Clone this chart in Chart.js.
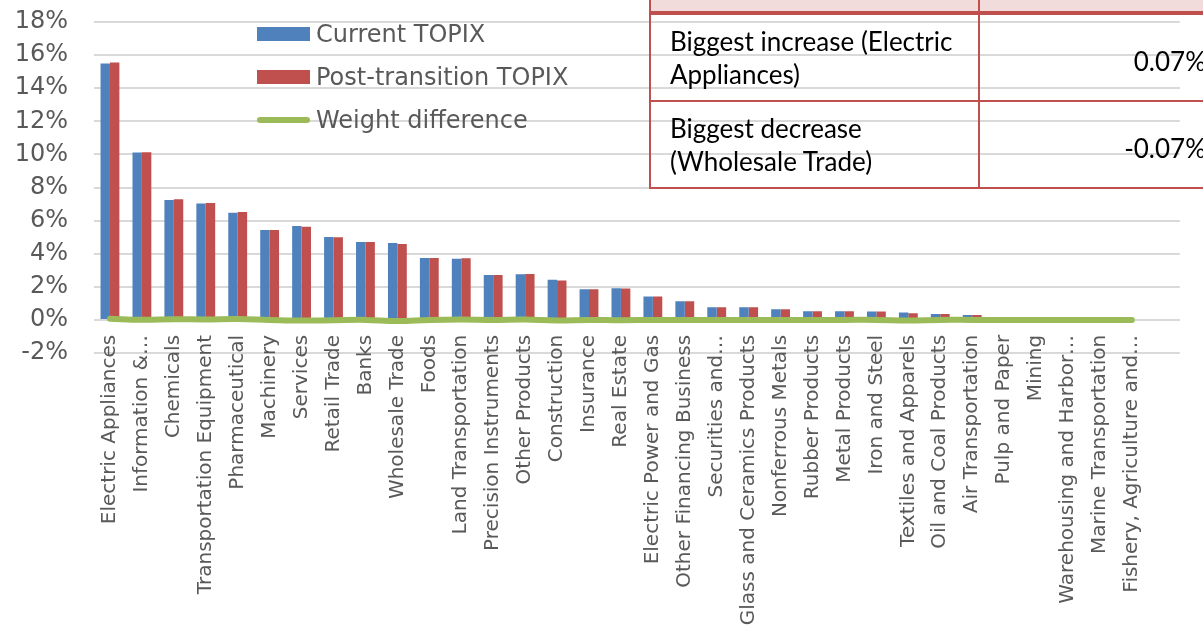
<!DOCTYPE html>
<html>
<head>
<meta charset="utf-8">
<script src="https://cdn.jsdelivr.net/npm/chart.js"></script>
<style>
  html, body { margin: 0; padding: 0; background: #fff; overflow: hidden; }
  #wrap { position: relative; width: 1203px; height: 633px; overflow: hidden; }
  #legend { position: absolute; left: 257px; top: 12px; font-family: "DejaVu Sans", sans-serif; font-size: 24px; color: #595959; }
  #legend .item { height: 43px; display: flex; align-items: center; }
  #legend .sw { width: 53px; margin-right: 6px; }
  #tbl { position: absolute; left: 649px; top: -25px; width: 570px; table-layout: fixed; border-collapse: collapse;
         font-family: Lato, "Open Sans", sans-serif; font-size: 26px; color: #000; }
  #tbl td { border: 2px solid #C0504D; padding: 0; }
  #tbl tr.head td { height: 34px; background: #F2DCDB; border-bottom-width: 4px; }
  #tbl td.lab { height: 85px; padding-left: 19px; line-height: 33px; }
  #tbl td.val { text-align: right; padding-right: 13px; }
  #tbl td.val span { position: relative; top: 3px; }
</style>
</head>
<body>
<div id="wrap">
  <canvas id="barChart" width="1203" height="633"></canvas>
  <div id="legend"></div>
  <table id="tbl">
    <colgroup><col style="width:329px"><col style="width:241px"></colgroup>
    <tr class="head"><td class="lab" style="height:34px"></td><td class="val"></td></tr>
    <tr><td class="lab">Biggest increase (Electric Appliances)</td><td class="val"><span>0.07%</span></td></tr>
    <tr><td class="lab">Biggest decrease (Wholesale Trade)</td><td class="val"><span>-0.07%</span></td></tr>
  </table>
</div>

<script>

var sectors = ['Electric Appliances', 'Information &\u2026', 'Chemicals', 'Transportation Equipment', 'Pharmaceutical',
    'Machinery', 'Services', 'Retail Trade', 'Banks', 'Wholesale Trade', 'Foods', 'Land Transportation',
    'Precision Instruments', 'Other Products', 'Construction', 'Insurance', 'Real Estate', 'Electric Power and Gas',
    'Other Financing Business', 'Securities and\u2026', 'Glass and Ceramics Products', 'Nonferrous Metals',
    'Rubber Products', 'Metal Products', 'Iron and Steel', 'Textiles and Apparels', 'Oil and Coal Products',
    'Air Transportation', 'Pulp and Paper', 'Mining', 'Warehousing and Harbor\u2026', 'Marine Transportation',
    'Fishery, Agriculture and\u2026', '']

// weights in %
var currentTopix = [15.49, 10.12, 7.25, 7.03, 6.47, 5.43, 5.67, 5.01, 4.71, 4.65, 3.74, 3.70,
    2.72, 2.76, 2.42, 1.85, 1.91, 1.42, 1.13, 0.77, 0.77, 0.64, 0.53, 0.53, 0.51, 0.44, 0.36,
    0.30, 0.18, 0.05, 0.13, 0.04, 0.06, null]
var postTopix = [15.56, 10.13, 7.29, 7.06, 6.52, 5.43, 5.63, 4.99, 4.71, 4.58, 3.74, 3.72,
    2.72, 2.78, 2.38, 1.85, 1.89, 1.42, 1.13, 0.77, 0.77, 0.64, 0.53, 0.53, 0.51, 0.40, 0.36,
    0.30, 0.18, 0.05, 0.12, 0.04, 0.06, null]
var weightDiff = [0.07, 0.01, 0.04, 0.03, 0.05, 0.00, -0.04, -0.02, 0.00, -0.07, 0.00, 0.02,
    0.00, 0.02, -0.04, 0.00, -0.02, 0.00, 0.00, 0.00, 0.00, 0.00, 0.00, 0.00, 0.00, -0.04, 0.00,
    0.00, 0.00, 0.00, -0.01, 0.00, 0.00, null]

var yTicks = [-2, 0, 2, 4, 6, 8, 10, 12, 14, 16, 18]

var ctx = document.getElementById('barChart').getContext('2d');

var chart = new Chart(ctx, {
    type: 'bar',
    data: {
        labels: sectors,
        datasets: [{
            type: 'line',
            label: 'Weight difference',
            data: weightDiff,
            borderColor: '#9BBB59',
            backgroundColor: '#9BBB59',
            borderWidth: 6,
            borderCapStyle: 'round',
            pointRadius: 0,
            tension: 0.4,
            order: 0
        }, {
            label: 'Current TOPIX',
            data: currentTopix,
            backgroundColor: '#4F81BD',
            order: 1
        }, {
            label: 'Post-transition TOPIX',
            data: postTopix,
            backgroundColor: '#C0504D',
            order: 2
        }]
    },
    options: {
        responsive: false,
        animation: false,
        layout: { padding: { top: 22, bottom: 280, right: 13, left: 0 } },
        datasets: { bar: { categoryPercentage: 0.59, barPercentage: 1.0 } },
        plugins: { legend: { display: false }, tooltip: { enabled: false } },
        scales: {
            x: {
                position: { y: 0 },
                grid: { display: false, drawTicks: false },
                border: { display: false },
                ticks: {
                    autoSkip: false, minRotation: 90, maxRotation: 90, padding: 15,
                    color: '#595959', font: { family: 'DejaVu Sans', size: 20 }
                }
            },
            y: {
                min: yTicks[0],
                max: yTicks[yTicks.length - 1],
                afterBuildTicks: function (scale) {
                    scale.ticks = yTicks.map(function (v) { return { value: v }; });
                },
                afterFit: function (scale) {
                    scale.width = 94;
                    scale.paddingTop = 0;
                    scale.paddingBottom = 0;
                },
                grid: { color: '#D9D9D9', lineWidth: 2, drawTicks: false },
                border: { display: false },
                ticks: {
                    padding: 26, color: '#595959', font: { family: 'DejaVu Sans', size: 24 },
                    callback: function (v) { return v + '%'; }
                }
            }
        }
    }
});

// legend order as in the picture: bars first, then the line
var legendEl = document.getElementById('legend');
[1, 2, 0].forEach(function (i) {
    var ds = chart.data.datasets[i];
    var item = document.createElement('div');
    item.className = 'item';
    var sw = document.createElement('span');
    sw.className = 'sw';
    if (ds.type === 'line') {
        sw.style.height = '6px';
        sw.style.borderRadius = '3px';
    } else {
        sw.style.height = '14px';
    }
    sw.style.background = ds.backgroundColor;
    item.appendChild(sw);
    item.appendChild(document.createTextNode(ds.label));
    legendEl.appendChild(item);
});

</script>
</body>
</html>
